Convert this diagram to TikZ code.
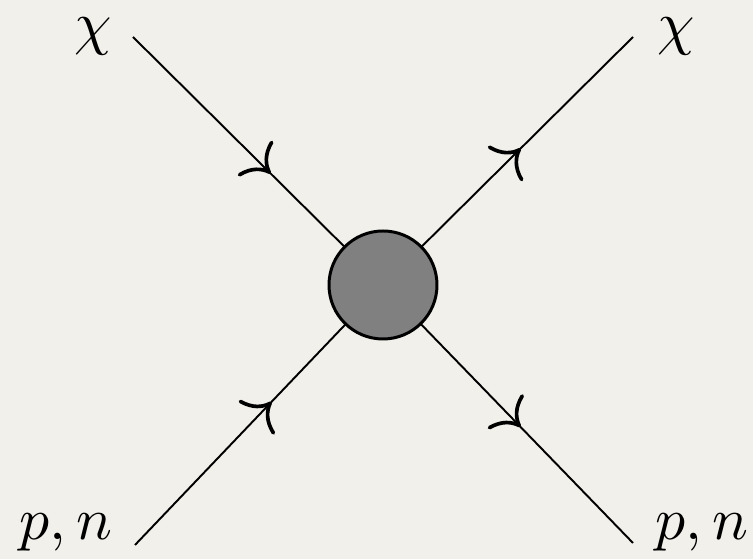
\documentclass[tikz,border=0pt]{standalone}
\usetikzlibrary{arrows.meta, decorations.markings}
\definecolor{paper}{HTML}{F2F0EA}
\definecolor{blobgray}{HTML}{808080}

\begin{document}
\begin{tikzpicture}[
  fermion/.style={line width=1.1pt, postaction={decorate},
    decoration={markings, mark=at position 0.55 with
      {\arrow{Computer Modern Rightarrow[length=13pt,width=28pt,line width=2.1pt]}}}},
  blob/.style={circle, draw, line width=1.7pt, fill=blobgray,
               minimum size=2.16cm, inner sep=0pt},
  lbl/.style={inner sep=0pt, anchor=base, scale=3.4},
]
  \fill[paper] (0,0) rectangle (15.06,11.18);
  \useasboundingbox (0,0) rectangle (15.06,11.18);
  % vertex and external legs
  \coordinate (v) at (7.66,5.48);
  \coordinate (tl) at (2.66,10.44);
  \coordinate (tr) at (12.66,10.44);
  \coordinate (bl) at (2.70,0.28);
  \coordinate (br) at (12.66,0.32);
  \draw[fermion] (tl) -- (v);
  \draw[fermion] (bl) -- (v);
  \draw[fermion] (v) -- (tr);
  \draw[fermion] (v) -- (br);
  \node[blob] (core) at (v) {};
  % labels
  \node[lbl] (chiL) at (1.86,10.30) {$\chi$};
  \node[lbl] (chiR) at (13.52,10.30) {$\chi$};
  \node[lbl] (pnL) at (1.32,0.38) {$p,n$};
  \node[lbl] (pnR) at (14.04,0.38) {$p,n$};
\end{tikzpicture}
\end{document}
